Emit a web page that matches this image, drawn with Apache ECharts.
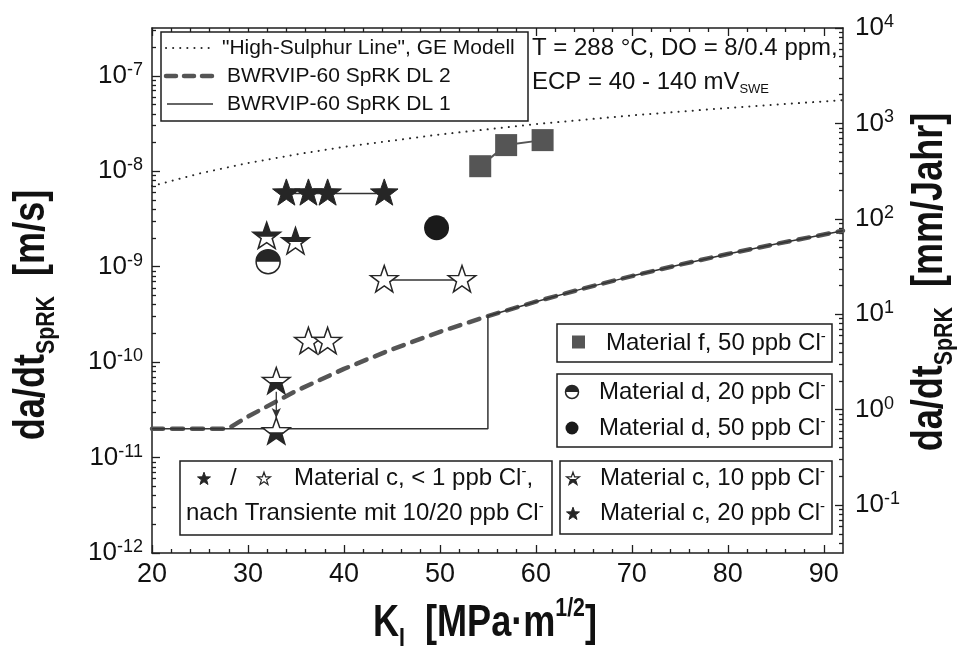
<!DOCTYPE html>
<html><head><meta charset="utf-8">
<script src="https://cdn.jsdelivr.net/npm/echarts@6/dist/echarts.min.js"></script>
<style>html,body{margin:0;padding:0;background:#fff}#c{width:964px;height:650px}</style>
</head><body><div id="c"></div>
<script>
// ---------------- data ----------------
const xTicks = [20, 30, 40, 50, 60, 70, 80, 90];
const leftTickValues = [1e-12, 1e-11, 1e-10, 1e-9, 1e-8, 1e-7];
const rightTickValues = [0.1, 1, 10, 100, 1000, 10000];
const MM_PER_YEAR_FACTOR = 3.1536e10; // m/s -> mm/Jahr

// "High-Sulphur Line", GE Modell
const highSulphurK = [20, 25, 30, 35, 40, 50, 60, 70, 80, 92];
const highSulphurRate = [7.0e-9, 9.5e-9, 1.22e-8, 1.50e-8, 1.80e-8, 2.43e-8, 3.12e-8, 3.85e-8, 4.61e-8, 5.57e-8];
// BWRVIP-60 SpRK DL 2
const dl2K = [20, 27.9, 30, 35, 40, 45, 50, 55, 60, 65, 70, 75, 80, 85, 92];
const dl2Rate = [2e-11, 2e-11, 2.69e-11, 4.98e-11, 8.5e-11, 1.36e-10, 2.08e-10, 3.04e-10, 4.30e-10, 5.93e-10, 7.97e-10, 1.05e-9, 1.36e-9, 1.73e-9, 2.38e-9];
// BWRVIP-60 SpRK DL 1
const dl1K = [20, 55, 55, 60, 65, 70, 75, 80, 85, 92];
const dl1Rate = [2e-11, 2e-11, 3.04e-10, 4.30e-10, 5.93e-10, 7.97e-10, 1.05e-9, 1.36e-9, 1.73e-9, 2.38e-9];

// Material f, 50 ppb Cl-
const matF50 = [[54.2, 1.13e-8], [56.9, 1.88e-8], [60.7, 2.12e-8]];
// Material d
const matD20 = [[32.1, 1.13e-9]];
const matD50 = [[49.65, 2.56e-9]];
// Material c, 20 ppb Cl- (filled stars)
const matC20 = [[34.0, 5.86e-9], [36.3, 5.86e-9], [38.3, 5.86e-9], [44.2, 5.86e-9]];
// Material c, 20 ppb over 10 ppb (upper half dark)
const matC20over10 = [[31.95, 2.06e-9], [34.95, 1.81e-9]];
// Material c, 10 ppb Cl- (half-filled stars)
const matC10 = [[32.95, 6.2e-11], [32.95, 1.84e-11]];
// Material c, < 1 ppb Cl- nach Transiente (open stars)
const matCLow = [[44.2, 7.24e-10], [52.3, 7.24e-10], [36.3, 1.63e-10], [38.3, 1.63e-10]];
// arrow (transient drop)
const arrowLine = [[32.95, 4.9e-11], [32.95, 2.6e-11]];

// ---------------- helpers ----------------
const DARK = '#262626';
const AX = '#1e1e1e';
const SANS = '"Liberation Sans",Arial,sans-serif';
const LMAX = 1e4 / MM_PER_YEAR_FACTOR;
const RMIN = 1e-12 * MM_PER_YEAR_FACTOR;

const xMinor = [];
for (let v = 22; v < 92; v += 2) if (v % 10 !== 0) xMinor.push(v);
const leftMinor = [];
for (let e = -12; e <= -7; e++) for (let m = 2; m <= 9; m++) { const v = m * Math.pow(10, e); if (v < LMAX) leftMinor.push(v); }
const rightMinor = [];
for (let e = -2; e <= 3; e++) for (let m = 2; m <= 9; m++) { const v = m * Math.pow(10, e); if (v > RMIN && v < 1e4) rightMinor.push(v); }

function starPoints(cx, cy, R, ratio) {
  const pts = [];
  for (let i = 0; i < 10; i++) {
    const a = -Math.PI / 2 + i * Math.PI / 5;
    const r = i % 2 ? R * ratio : R;
    pts.push([cx + r * Math.cos(a), cy + r * Math.sin(a)]);
  }
  return pts;
}
function clipHalf(pts, yCut, keepAbove) {
  const inside = p => keepAbove ? p[1] <= yCut : p[1] >= yCut;
  const out = [];
  for (let i = 0; i < pts.length; i++) {
    const a = pts[i], b = pts[(i + 1) % pts.length];
    const ia = inside(a), ib = inside(b);
    if (ia) out.push(a);
    if (ia !== ib) { const t = (yCut - a[1]) / (b[1] - a[1]); out.push([a[0] + t * (b[0] - a[0]), yCut]); }
  }
  return out;
}
function starEls(cx, cy, R, mode, lw) {
  const pts = starPoints(cx, cy, R, 0.4);
  const els = [];
  if (mode === 'filled') {
    els.push({ type: 'polygon', shape: { points: pts }, style: { fill: DARK, stroke: DARK, lineWidth: 1 } });
  } else {
    els.push({ type: 'polygon', shape: { points: pts }, style: { fill: '#fff', stroke: null } });
    if (mode === 'top' || mode === 'bottom')
      els.push({ type: 'polygon', shape: { points: clipHalf(pts, cy, mode === 'top') }, style: { fill: DARK, stroke: null } });
    els.push({ type: 'polygon', shape: { points: pts }, style: { fill: 'none', stroke: DARK, lineWidth: lw || 1.5, lineJoin: 'miter' } });
  }
  return els;
}
function starSeries(name, data, mode, z) {
  return {
    type: 'custom', name, data, z, xAxisIndex: 0, yAxisIndex: 0, clip: false,
    encode: { x: 0, y: 1 },
    renderItem: (params, api) => {
      const c = api.coord([api.value(0), api.value(1)]);
      return { type: 'group', children: starEls(c[0], c[1], 14.5, mode) };
    }
  };
}
function halfCircleEls(cx, cy, r) {
  return [
    { type: 'circle', shape: { cx, cy, r }, style: { fill: '#fff', stroke: null } },
    { type: 'sector', shape: { cx, cy, r0: 0, r, startAngle: Math.PI, endAngle: 2 * Math.PI, clockwise: true }, style: { fill: DARK } },
    { type: 'circle', shape: { cx, cy, r }, style: { fill: 'none', stroke: DARK, lineWidth: 1.5 } }
  ];
}
const zip = (xs, ys) => xs.map((x, i) => [x, ys[i]]);

const tickLabelRich = {
  b: { fontSize: 26, fontFamily: SANS, color: '#111', lineHeight: 30 },
  s: { fontSize: 18, fontFamily: SANS, color: '#111', lineHeight: 8, verticalAlign: 'top' }
};
const powFmt = v => '{b|10}{s|' + Math.round(Math.log10(v)) + '}';

function xAxisCfg(pos, major) {
  return {
    type: 'value', min: 20, max: 92, position: pos,
    axisLine: { show: major, onZero: false, lineStyle: { color: AX, width: 1.5 } },
    axisTick: { show: true, inside: true, length: major ? 8 : 4, customValues: major ? xTicks : xMinor, lineStyle: { color: AX, width: 1.3 } },
    axisLabel: pos === 'bottom' && major ? { show: true, customValues: xTicks, fontSize: 27, fontFamily: SANS, color: '#111', margin: 8 } : { show: false },
    splitLine: { show: false }, minorTick: { show: false }
  };
}
function yAxisCfg(pos, min, max, major, ticks, minor) {
  return {
    type: 'log', logBase: 10, min, max, position: pos,
    axisLine: { show: major, onZero: false, lineStyle: { color: AX, width: 1.5 } },
    axisTick: { show: true, inside: true, length: major ? 8 : 4, customValues: major ? ticks : minor, lineStyle: { color: AX, width: 1.3 } },
    axisLabel: major ? { show: true, customValues: ticks, formatter: powFmt, rich: tickLabelRich, margin: pos === 'left' ? 9 : 12 } : { show: false },
    splitLine: { show: false }, minorTick: { show: false }
  };
}

const chart = echarts.init(document.getElementById('c'), null, { renderer: 'canvas' });

const richSup = { t: { fontSize: 24, fontFamily: SANS, lineHeight: 28 }, sp: { fontSize: 15, fontFamily: SANS, lineHeight: 10, verticalAlign: 'top' } };
function txt(x, y, text, extra) {
  return { type: 'text', x, y, z: 20, style: Object.assign({ text, rich: richSup, fill: '#111', align: 'left', verticalAlign: 'middle', fontSize: 24, fontFamily: SANS }, extra || {}) };
}
function box(x, y, w, h) {
  return { type: 'rect', z: 15, shape: { x, y, width: w, height: h }, style: { fill: '#fff', stroke: AX, lineWidth: 1.5 } };
}
function starIcon(cx, cy, mode) {
  return { type: 'group', z: 21, children: starEls(cx, cy, 6.8, mode, 1.2).map(e => Object.assign(e, { z: 21 })) };
}
const titleRich = {
  b: { fontSize: 44, fontWeight: 'bold', fontFamily: SANS, lineHeight: 56 },
  sb: { fontSize: 26, fontWeight: 'bold', fontFamily: SANS, lineHeight: 26, verticalAlign: 'bottom' },
  sp: { fontSize: 26, fontWeight: 'bold', fontFamily: SANS, lineHeight: 40, verticalAlign: 'top' }
};

const graphics = [
  // legend 1 (lines)
  box(161, 32, 367, 89),
  { type: 'line', z: 21, shape: { x1: 166, y1: 48, x2: 210, y2: 48 }, style: { stroke: DARK, lineWidth: 2, lineDash: [0.1, 7], lineCap: 'round' } },
  { type: 'line', z: 21, shape: { x1: 166, y1: 76, x2: 214, y2: 76 }, style: { stroke: '#555', lineWidth: 4.5, lineDash: [10, 8], lineCap: 'round' } },
  { type: 'line', z: 21, shape: { x1: 167, y1: 104, x2: 213, y2: 104 }, style: { stroke: '#333', lineWidth: 1.5 } },
  txt(222, 48, '"High-Sulphur Line", GE Modell', { fontSize: 21 }),
  txt(227, 76, 'BWRVIP-60 SpRK DL 2', { fontSize: 21 }),
  txt(227, 104, 'BWRVIP-60 SpRK DL 1', { fontSize: 21 }),
  // conditions
  txt(532, 48, 'T = 288 °C, DO = 8/0.4 ppm,'),
  txt(532, 82, '{t|ECP = 40 - 140 mV}{sb|SWE}', { rich: { t: { fontSize: 24, fontFamily: SANS, lineHeight: 28 }, sb: { fontSize: 13, fontFamily: SANS, lineHeight: 8, verticalAlign: 'bottom' } } }),
  // legend f
  box(557, 324, 275, 38),
  { type: 'rect', z: 21, shape: { x: 572, y: 335.5, width: 13, height: 13 }, style: { fill: '#555' } },
  txt(606, 343, '{t|Material f, 50 ppb Cl}{sp|-}'),
  // legend d
  box(557, 374, 275, 73),
  { type: 'group', z: 21, children: halfCircleEls(572, 392, 6.5).map(e => Object.assign(e, { z: 21 })) },
  { type: 'circle', z: 21, shape: { cx: 572, cy: 428, r: 6.5 }, style: { fill: '#1a1a1a' } },
  txt(599, 392, '{t|Material d, 20 ppb Cl}{sp|-}'),
  txt(599, 428, '{t|Material d, 50 ppb Cl}{sp|-}'),
  // legend c right
  box(560, 461, 272, 73),
  starIcon(573, 479, 'bottom'),
  starIcon(573, 514, 'filled'),
  txt(600, 478, '{t|Material c, 10 ppb Cl}{sp|-}'),
  txt(600, 513, '{t|Material c, 20 ppb Cl}{sp|-}'),
  // legend c left
  box(180, 461, 372, 74),
  starIcon(204, 479, 'filled'),
  txt(230, 478, '/'),
  starIcon(264, 479, 'open'),
  txt(294, 478, '{t|Material c, < 1 ppb Cl}{sp|-}{t|,}'),
  txt(186, 513, '{t|nach Transiente mit 10/20 ppb Cl}{sp|-}'),
  // axis titles (condensed bold)
  { type: 'text', z: 20, x: 485, y: 624, scaleX: 0.82, style: { text: '{b|K}{sb|I}{b|  [MPa·m}{sp|1/2}{b|]}', align: 'center', verticalAlign: 'middle', fill: '#111', rich: titleRich } },
  { type: 'text', z: 20, x: 32, y: 315, rotation: Math.PI / 2, scaleX: 0.82, style: { text: '{b|da/dt}{sb|SpRK}{b|  [m/s]}', align: 'center', verticalAlign: 'middle', fill: '#111', rich: titleRich } },
  { type: 'text', z: 20, x: 930, y: 282, rotation: Math.PI / 2, scaleX: 0.82, style: { text: '{b|da/dt}{sb|SpRK}{b|  [mm/Jahr]}', align: 'center', verticalAlign: 'middle', fill: '#111', rich: titleRich } }
];

const option = {
  animation: false,
  backgroundColor: '#fff',
  grid: { left: 152, right: 121, top: 28, bottom: 97, outerBoundsMode: 'none' },
  xAxis: [xAxisCfg('bottom', true), xAxisCfg('bottom', false), xAxisCfg('top', true), xAxisCfg('top', false)],
  yAxis: [
    yAxisCfg('left', 1e-12, LMAX, true, leftTickValues, null),
    yAxisCfg('left', 1e-12, LMAX, false, null, leftMinor),
    yAxisCfg('right', RMIN, 1e4, true, rightTickValues, null),
    yAxisCfg('right', RMIN, 1e4, false, null, rightMinor)
  ],
  series: [
    { type: 'line', name: 'High-Sulphur Line', data: zip(highSulphurK, highSulphurRate), symbol: 'none', z: 2,
      lineStyle: { color: DARK, width: 2, type: [0.1, 7], cap: 'round' } },
    { type: 'line', name: 'DL 2', data: zip(dl2K, dl2Rate), symbol: 'none', z: 2,
      lineStyle: { color: '#555', width: 4.5, type: [11, 9], cap: 'round' } },
    { type: 'line', name: 'DL 1', data: zip(dl1K, dl1Rate), symbol: 'none', z: 3,
      lineStyle: { color: '#333', width: 1.5 } },
    { type: 'line', name: 'f link', data: matF50, symbol: 'none', z: 3, lineStyle: { color: '#555', width: 2 } },
    { type: 'line', name: 'c20 link', data: matC20, symbol: 'none', z: 3, lineStyle: { color: '#333', width: 1.5 } },
    { type: 'line', name: 'cLow link', data: matCLow.slice(0, 2), symbol: 'none', z: 3, lineStyle: { color: '#333', width: 1.5 } },
    { type: 'line', name: 'arrow', z: 3, lineStyle: { color: '#333', width: 1.3 },
      data: [{ value: arrowLine[0], symbol: 'none' }, { value: arrowLine[1], symbol: 'arrow', symbolSize: [7, 10], symbolRotate: 180, itemStyle: { color: '#333' } }] },
    { type: 'scatter', name: 'Material f, 50 ppb', data: matF50, symbol: 'rect', symbolSize: 22, z: 5, itemStyle: { color: '#555', opacity: 1 } },
    { type: 'scatter', name: 'Material d, 50 ppb', data: matD50, symbol: 'circle', symbolSize: 25, z: 5, itemStyle: { color: '#1a1a1a', opacity: 1 } },
    { type: 'custom', name: 'Material d, 20 ppb', data: matD20, z: 5, clip: false, encode: { x: 0, y: 1 },
      renderItem: (p, api) => { const c = api.coord([api.value(0), api.value(1)]); return { type: 'group', children: halfCircleEls(c[0], c[1], 12) }; } },
    starSeries('Material c, 10 ppb', matC10, 'bottom', 6),
    starSeries('Material c, < 1 ppb', matCLow, 'open', 6),
    starSeries('Material c, 20/10 ppb', matC20over10, 'top', 6),
    starSeries('Material c, 20 ppb', matC20, 'filled', 7)
  ],
  graphic: graphics
};
chart.setOption(option);
</script></body></html>
